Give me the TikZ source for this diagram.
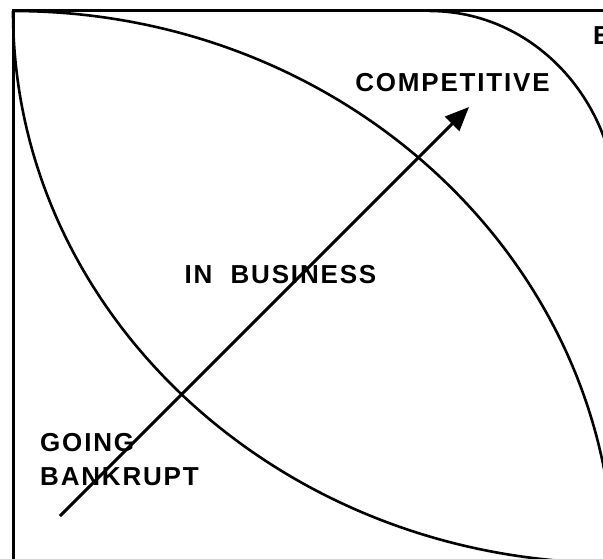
\documentclass[tikz,border=0pt]{standalone}
\usepackage{fontspec}
\usepackage{xcolor}
\usepackage{tikz}
\usetikzlibrary{arrows.meta}
\newfontfamily\lblfont{Liberation Sans}[LetterSpace=7]

\tikzset{%
  frame/.style={line width=3pt},%
  lens/.style={line width=2.6pt},%
  lbl/.style={inner sep=0pt, font=\fontsize{26}{34}\selectfont\lblfont\bfseries},%
  pointer/.style={line width=3pt, -{Triangle[length=24pt, width=20pt]}}%
}

\begin{document}
\begin{tikzpicture}[x=1pt, y=1pt]%
\useasboundingbox (0,0) rectangle (603,558);%
\clip (0,0) rectangle (603,558);%
\draw[frame] (13,547) rectangle (614,-13);%
\draw[lens] (13,547) arc[start angle=90, end angle=0, x radius=601, y radius=560];%
\draw[lens] (13,547) arc[start angle=180, end angle=270, x radius=601, y radius=552];%
\draw[lens] (430,547) arc[start angle=90, end angle=0, x radius=187, y radius=200];%
\coordinate (low) at (60,42);%
\coordinate (high) at (469,451);%
\draw[pointer] (low) -- (high);%
\node[lbl, anchor=base] (competitive) at (452.5,466) {COMPETITIVE};%
\node[lbl, anchor=base] (inbusiness) at (280.5,274) {IN~~BUSINESS};%
\node[lbl, anchor=north west, align=left] (bankrupt) at (40,124.5) {GOING\\BANKRUPT};%
\node[lbl, anchor=base west] (excellent) at (593,513) {E};%
\end{tikzpicture}
\end{document}
